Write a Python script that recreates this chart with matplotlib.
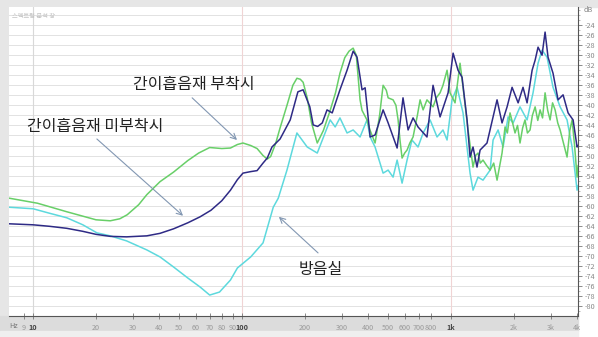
import numpy as np
import matplotlib
matplotlib.use("Agg")
import matplotlib.pyplot as plt
from matplotlib.patches import Rectangle

plt.rcParams['font.family'] = ['Noto Sans CJK KR', 'DejaVu Sans']

# ---- data (Hz, dB) ----
# 간이흡음재 부착시 (green)
green_freq = [7.7, 10.5, 14.5, 20, 23.4, 26, 28.2, 32, 35, 40.5, 47, 55, 62, 70, 80, 88, 95, 101,
              110, 118, 126, 132, 137, 145, 152, 164, 175, 183, 190, 196, 205, 215, 229, 245, 264,
              280, 294, 310, 325, 340, 352, 367, 375, 396, 410, 433, 455, 473, 490, 500, 528, 545,
              558, 570, 583, 600, 616, 635, 658, 690, 711, 735, 767, 790, 820, 850, 886, 915, 957,
              989, 1045, 1104, 1141, 1206, 1274, 1310, 1346, 1380, 1422, 1480, 1538, 1600, 1660,
              1754, 1813, 1860, 1915, 1970, 2024, 2080, 2138, 2200, 2259, 2320, 2388, 2450, 2525,
              2600, 2668, 2740, 2818, 2900, 2978, 3060, 3147, 3240, 3326, 3450, 3590, 3700, 3795,
              3900, 4009, 4055]
green_db = [-58.5, -59.5, -61.2, -62.8, -63.0, -62.6, -61.8, -59.8, -57.8, -55.2, -53.3, -51.0,
            -49.5, -48.4, -48.6, -48.5, -47.8, -47.5, -48.0, -48.6, -50.0, -50.7, -50.2, -47.5,
            -44.5, -40.0, -36.0, -34.6, -34.8, -35.4, -38.5, -43.5, -47.5, -45.0, -41.0, -37.5,
            -33.6, -30.5, -29.2, -28.6, -30.0, -38.9, -41.0, -42.9, -45.0, -47.5, -42.0, -36.0,
            -37.0, -38.5, -38.9, -40.0, -42.9, -47.0, -50.5, -49.5, -48.9, -47.5, -46.3, -42.0,
            -38.9, -40.9, -38.9, -39.5, -40.3, -38.5, -37.5, -36.0, -33.0, -37.5, -39.5, -31.6,
            -36.4, -44.9, -52.3, -50.0, -49.5, -51.5, -50.9, -52.0, -52.9, -51.5, -54.9, -49.5,
            -44.3, -45.5, -41.5, -43.5, -45.5, -44.0, -47.5, -44.5, -42.9, -45.5, -44.9, -42.0,
            -40.3, -43.0, -40.9, -42.5, -37.5, -41.0, -42.9, -39.5, -40.9, -43.5, -44.9, -47.5,
            -50.3, -45.0, -42.9, -48.0, -54.3, -52.0]

# 간이흡음재 미부착시 (navy)
navy_freq = [7.7, 10, 12, 14.5, 17.3, 20, 23.4, 28, 35, 40.5, 47, 55, 63, 71, 80, 88, 95, 101,
             110, 118, 126, 132, 139, 152, 170, 185, 196, 211, 219, 230, 242, 255, 270, 294, 318,
             340, 355, 375, 388, 410, 433, 473, 500, 552, 589, 623, 658, 695, 767, 820, 886, 968,
             1023, 1080, 1129, 1193, 1233, 1274, 1331, 1377, 1486, 1589, 1660, 1754, 1854, 1959,
             2094, 2210, 2311, 2443, 2525, 2608, 2725, 2818, 2911, 3076, 3251, 3436, 3631, 3837,
             4009, 4055]
navy_db = [-63.6, -63.8, -64.1, -64.5, -65.1, -65.7, -66.1, -66.2, -66.0, -65.5, -64.6, -63.4,
           -62.2, -60.9, -59.0, -56.9, -54.8, -53.5, -53.2, -53.0, -51.5, -50.5, -48.3, -46.7,
           -42.9, -37.3, -36.9, -40.3, -43.9, -44.2, -43.5, -40.9, -41.5, -36.9, -33.0, -29.2,
           -30.4, -36.9, -36.5, -46.3, -45.9, -40.9, -43.5, -48.5, -38.5, -44.9, -42.5, -44.3,
           -46.3, -36.0, -42.3, -37.5, -29.6, -33.0, -34.4, -42.9, -50.3, -48.3, -52.3, -48.9,
           -47.5, -42.3, -38.9, -43.5, -40.3, -36.4, -39.5, -36.4, -39.5, -33.0, -31.0, -28.4,
           -30.0, -25.4, -30.4, -33.6, -38.9, -37.9, -41.5, -42.9, -48.3, -48.0]

# 방음실 (cyan)
cyan_freq = [7.7, 10, 12, 14.5, 17.3, 20.2, 23.4, 28, 35, 40.5, 47, 55, 63, 70, 78, 88, 95, 110,
             126, 141, 149, 164, 183, 205, 229, 264, 279, 294, 318, 340, 367, 396, 410, 433, 473,
             500, 528, 552, 583, 616, 650, 695, 735, 794, 857, 915, 957, 1011, 1069, 1141, 1233,
             1274, 1346, 1422, 1538, 1589, 1679, 1774, 1875, 1982, 2138, 2311, 2468, 2608, 2725,
             2880, 3076, 3326, 3590, 3795, 4009, 4055]
cyan_db = [-60.3, -60.6, -61.5, -62.4, -63.8, -65.4, -66.0, -67.0, -68.8, -70.2, -72.2, -74.4,
           -76.2, -77.8, -77.2, -74.8, -72.4, -70.2, -67.4, -60.3, -58.5, -52.9, -45.5, -48.3,
           -49.5, -42.9, -44.3, -42.5, -45.5, -44.9, -46.3, -42.9, -46.3, -48.3, -53.5, -52.9,
           -54.3, -50.9, -55.5, -50.9, -46.9, -48.3, -45.5, -42.9, -46.3, -44.9, -46.9, -38.9,
           -36.4, -41.5, -53.5, -56.9, -54.3, -54.9, -52.9, -46.9, -44.9, -48.3, -42.3, -43.5,
           -40.3, -42.9, -37.5, -31.6, -29.0, -30.4, -36.4, -40.3, -42.9, -48.3, -56.9, -56.0]

x_ticks = [9, 10, 20, 30, 40, 50, 60, 70, 80, 90, 100, 200, 300, 400, 500, 600, 700, 800,
           1000, 2000, 3000, 4000]
x_labels = ['9', '10', '20', '30', '40', '50', '60', '70', '80', '90', '100', '200', '300',
            '400', '500', '600', '700', '800', '1k', '2k', '3k', '4k']
y_ticks = list(range(-80, -23, 2))

W, H = 598, 337
fig = plt.figure(figsize=(W / 100, H / 100), dpi=100)
fig.patch.set_facecolor('white')

# window frame bands
fig.add_artist(Rectangle((0, 0), 9 / W, 1, transform=fig.transFigure, color='#e6e6e6', zorder=0))
fig.add_artist(Rectangle((0, 1 - 7 / H), 1, 7 / H, transform=fig.transFigure, color='#e6e6e6', zorder=0))
fig.add_artist(Rectangle((0, 6 / H), 578 / W, 15 / H, transform=fig.transFigure, color='#dcdcdc', zorder=0))
fig.add_artist(Rectangle((0, 0), 578 / W, 6 / H, transform=fig.transFigure, color='#efefef', zorder=0))

ax = fig.add_axes([9 / W, 21 / H, (578 - 9) / W, (316 - 7) / H])
ax.set_facecolor('white')
ax.set_xscale('log')
ax.set_xlim(7.67, 4050)
ax.set_ylim(-81.97, -20.4)

for yv in y_ticks + [-82, -22]:
    ax.axhline(yv, color='#e2e2e2', lw=0.7, zorder=1)
ax.axvline(10, color='#d8d8d8', lw=0.8, zorder=1)
ax.axvline(100, color='#f0d4d4', lw=0.8, zorder=1)
ax.axvline(1000, color='#f0d4d4', lw=0.8, zorder=1)

ax.plot(cyan_freq, cyan_db, color='#5dd9dd', lw=1.1, zorder=3)
ax.plot(green_freq, green_db, color='#68cf68', lw=1.1, zorder=4)
ax.plot(navy_freq, navy_db, color='#2e2a85', lw=1.1, zorder=5)

# axes styling
for s in ['left', 'top']:
    ax.spines[s].set_visible(False)
for s in ['right', 'bottom']:
    ax.spines[s].set_color('#555555')
    ax.spines[s].set_linewidth(0.8)

ax.yaxis.tick_right()
ax.set_yticks(y_ticks)
ax.set_yticklabels([str(v) for v in y_ticks])
ax.set_yticks(list(range(-81, -20, 1)), minor=True)
ax.tick_params(axis='y', which='major', length=3, width=0.6, color='#777777',
               labelsize=5.2, labelcolor='#888888', pad=1.5)
ax.tick_params(axis='y', which='minor', length=1.6, width=0.5, color='#999999')

ax.set_xticks(x_ticks)
ax.set_xticklabels(x_labels)
ax.xaxis.set_minor_locator(plt.NullLocator())
ax.tick_params(axis='x', which='major', direction='inout', length=4, width=0.6,
               color='#777777', labelsize=5.2, labelcolor='#999999', pad=4)
for lab in ax.get_xticklabels():
    if lab.get_text() in ('10', '100', '1k'):
        lab.set_color('#444444')
        lab.set_fontweight('bold')

fig.text(9 / W, 1 - 326 / H, 'Hz', fontsize=5.2, color='#777777', va='center', ha='left')
fig.text(584 / W, 1 - 10 / H, 'dB', fontsize=5.2, color='#888888', va='center', ha='left')
fig.text(12 / W, 1 - 16 / H, '스펙트럼 분석 창', fontsize=4.5, color='#c4c4c4', va='center')

# annotations
arrow_kw = dict(arrowstyle='->', color='#8297b2', lw=0.8, shrinkA=0, shrinkB=0)
ax.annotate('', xy=(94.6, -46.9), xytext=(57.7, -38.5), arrowprops=arrow_kw, zorder=6)
ax.text(58.9, -35.75, '간이흡음재 부착시', fontsize=11.5, ha='center', va='center', color='#222222')

ax.annotate('', xy=(52.2, -62.0), xytext=(20.2, -46.7), arrowprops=arrow_kw, zorder=6)
ax.text(19.8, -44.3, '간이흡음재 미부착시', fontsize=11.5, ha='center', va='center', color='#222222')

ax.annotate('', xy=(150, -62.2), xytext=(231, -69.4), arrowprops=arrow_kw, zorder=6)
ax.text(239, -72.8, '방음실', fontsize=11.5, ha='center', va='center', color='#222222')

fig.savefig('out.png', dpi=100)
